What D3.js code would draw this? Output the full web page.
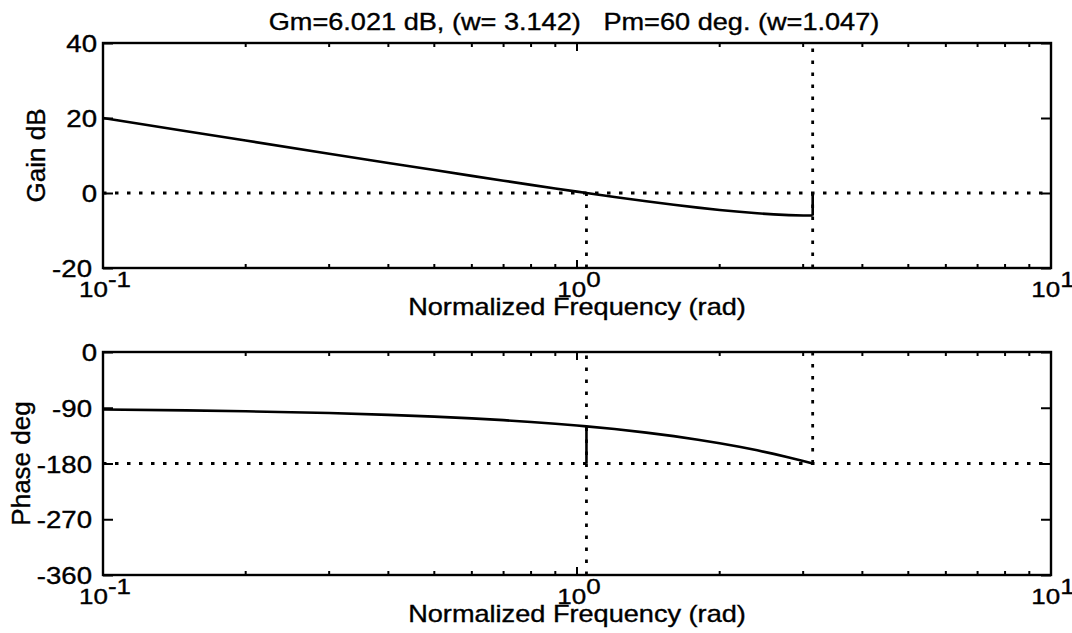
<!DOCTYPE html>
<html>
<head>
<meta charset="utf-8">
<script src="https://cdn.jsdelivr.net/npm/d3@7"></script>
<style>
  html, body { margin: 0; padding: 0; background: #fff; }
  svg { display: block; }
  text { font-family: "Liberation Sans", Arial, Helvetica, sans-serif; fill: #000; stroke: #000; stroke-width: 0.35px; }
</style>
</head>
<body>
<svg id="chart" width="1072" height="633"></svg>
<script>
// Frequency response of the open loop, sampled up to the Nyquist frequency (rad)
const freq = [0.1, 0.15, 0.2, 0.3, 0.4, 0.5, 0.6, 0.7, 0.8, 0.9, 1.0, 1.047,
              1.2, 1.4, 1.6, 1.8, 2.0, 2.2, 2.4, 2.6, 2.8, 3.0, 3.142];
const gainDb = [20.00, 16.49, 13.99, 10.49, 8.02, 6.11, 4.57, 3.28, 2.17, 1.21, 0.37, 0.00,
                -1.06, -2.20, -3.14, -3.90, -4.52, -5.02, -5.41, -5.70, -5.89, -6.00, -6.02];
const phaseDeg = [-92.86, -94.30, -95.73, -98.59, -101.46, -104.32, -107.19, -110.05, -112.92,
                  -115.78, -118.65, -120.00, -124.38, -130.11, -135.84, -141.57, -147.30,
                  -153.03, -158.76, -164.49, -170.21, -175.94, -180.00];

// Stability margins
const gainMargin = 6.021;   // dB
const gainMarginFreq = 3.142;
const phaseMargin = 60;     // deg
const phaseMarginFreq = 1.047;

// Axis ticks
const freqDomain = [0.1, 10];
const freqDecades = [0.1, 1, 10];
const freqDecadeExponents = ["-1", "0", "1"];
const gainTicks = [40, 20, 0, -20];
const phaseTicks = [0, -90, -180, -270, -360];

const svg = d3.select("#chart");
const SX = 1.18;       // horizontal stretch of the lettering

const x = d3.scaleLog().domain(freqDomain).range([103, 1051]);
const yGain = d3.scaleLinear().domain([-20, 40]).range([268, 43]);
const yPhase = d3.scaleLinear().domain([-360, 0]).range([575, 352]);

function label(g, tx, ty, str, opts = {}) {
  const sx = opts.sx || SX;
  return g.append("text")
    .attr("transform", `translate(${tx},${ty}) scale(${sx},1)` + (opts.rotate ? ` rotate(${opts.rotate})` : ""))
    .attr("text-anchor", opts.anchor || "start")
    .style("font-size", (opts.size || 22) + "px")
    .text(str);
}

function panel(yScale, yTicks, curve, ylabelText, ylabelX, stem, refLines) {
  const g = svg.append("g");
  const [x0, x1] = x.range();
  const [yb, yt] = yScale.range();

  // reference (dotted) lines
  const dotted = g.append("g")
    .attr("stroke", "#000").attr("stroke-width", 2.8)
    .attr("stroke-dasharray", "3.5,8.5").attr("fill", "none");
  refLines.forEach(r => {
    dotted.append("line")
      .attr("x1", x(r.x1)).attr("x2", x(r.x2))
      .attr("y1", yScale(r.y1)).attr("y2", yScale(r.y2));
  });

  // response curve
  const line = d3.line().x(d => x(d[0])).y(d => yScale(d[1]));
  g.append("path")
    .datum(freq.map((f, i) => [f, curve[i]]))
    .attr("d", line)
    .attr("fill", "none").attr("stroke", "#000").attr("stroke-width", 2.6)
    .attr("stroke-linejoin", "round");

  // margin stem
  g.append("line")
    .attr("x1", x(stem.f)).attr("x2", x(stem.f))
    .attr("y1", yScale(stem.from)).attr("y2", yScale(stem.to))
    .attr("stroke", "#000").attr("stroke-width", 2.6);

  // y axis ticks, inward on both sides
  const axisY = d3.axisLeft(yScale).tickValues(yTicks).tickSize(-10).tickFormat("");
  g.append("g").attr("transform", `translate(${x0},0)`).call(axisY)
    .call(s => s.select(".domain").remove())
    .call(s => s.selectAll("line").attr("stroke-width", 2));
  const axisYR = d3.axisRight(yScale).tickValues(yTicks).tickSize(-10).tickFormat("");
  g.append("g").attr("transform", `translate(${x1},0)`).call(axisYR)
    .call(s => s.select(".domain").remove())
    .call(s => s.selectAll("line").attr("stroke-width", 2));

  // x axis ticks (log, major + minor), inward top and bottom
  const allTicks = x.ticks();
  const isMajor = d => freqDecades.some(m => Math.abs(m - d) < 1e-9);
  [[yb, 1], [yt, -1]].forEach(([yy, dir]) => {
    g.append("g").selectAll("line").data(allTicks).join("line")
      .attr("x1", d => x(d)).attr("x2", d => x(d))
      .attr("y1", yy).attr("y2", d => yy - dir * (isMajor(d) ? 8 : 4))
      .attr("stroke", "#000").attr("stroke-width", 2);
  });

  // frame
  g.append("rect")
    .attr("x", x0).attr("y", yt).attr("width", x1 - x0).attr("height", yb - yt)
    .attr("fill", "none").attr("stroke", "#000").attr("stroke-width", 2.4);

  // y tick labels
  yTicks.forEach(v => {
    label(g, v < 0 ? 92 : 97, yScale(v) + 9, String(v), { anchor: "end", size: 23, sx: 1.2 });
  });

  // x tick labels: 10 with superscript exponent
  freqDecades.forEach((d, i) => {
    const t = label(g, x(d) + 2, yb + 29, "", { anchor: "middle", size: 22 });
    t.append("tspan").text("10");
    t.append("tspan").attr("dy", -10).text(freqDecadeExponents[i]);
  });

  // x label
  label(g, 577, yb + 47, "Normalized Frequency (rad)", { anchor: "middle", size: 23 });

  // y label
  label(g, ylabelX, (yb + yt) / 2, ylabelText, { anchor: "middle", size: 26, sx: 1.0, rotate: -90 });
  return g;
}

panel(yGain, gainTicks, gainDb, "Gain dB", 45,
  { f: gainMarginFreq, from: 0, to: -gainMargin },
  [
    { x1: 0.1, x2: 10, y1: 0, y2: 0 },
    { x1: phaseMarginFreq, x2: phaseMarginFreq, y1: -20, y2: 0 },
    { x1: gainMarginFreq, x2: gainMarginFreq, y1: -20, y2: 40 }
  ]);

panel(yPhase, phaseTicks, phaseDeg, "Phase deg", 30,
  { f: phaseMarginFreq, from: -180, to: -180 + phaseMargin },
  [
    { x1: 0.1, x2: 10, y1: -180, y2: -180 },
    { x1: phaseMarginFreq, x2: phaseMarginFreq, y1: -360, y2: 0 },
    { x1: gainMarginFreq, x2: gainMarginFreq, y1: -180, y2: 0 }
  ]);

// title with the margins
label(svg, 574, 30,
  `Gm=${gainMargin.toFixed(3)} dB, (w= ${gainMarginFreq.toFixed(3)})\u00a0\u00a0\u00a0Pm=${phaseMargin} deg. (w=${phaseMarginFreq.toFixed(3)})`,
  { anchor: "middle", size: 23 });
</script>
</body>
</html>
